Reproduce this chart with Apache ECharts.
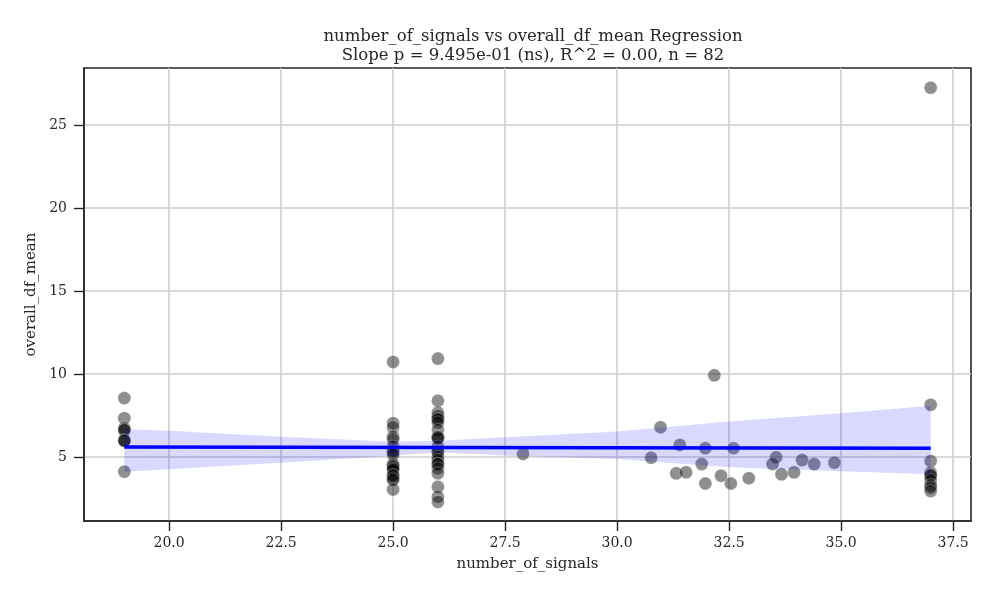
<!DOCTYPE html>
<html>
<head>
<meta charset="utf-8">
<script src="https://cdn.jsdelivr.net/npm/echarts@6/dist/echarts.min.js"></script>
<style>html,body{margin:0;padding:0;background:#fff}#c{width:1000px;height:600px}</style>
</head>
<body>
<div id="c"></div>
<script>
const numberOfSignals = [
  19,19,19,19,19,19,19,19,19,
  25,25,25,25,25,25,25,25,25,25,25,25,25,25,25,25,25,25,25,
  26,26,26,26,26,26,26,26,26,26,26,26,26,26,26,26,26,26,26,26,26,26,26,
  37,37,37,37,37,37,37,37,37,37,
  27.9,32.17,30.97,31.40,31.97,32.60,30.76,31.89,31.32,31.54,31.97,32.32,32.54,32.94,33.55,33.47,33.67,33.95,34.13,34.40,34.85
];
const overallDfMean = [
  8.56,7.35,6.75,6.62,6.65,6.04,5.98,6.0,4.13,
  10.74,7.05,6.8,6.24,6.08,5.64,5.38,5.3,5.14,4.59,4.5,4.43,4.3,4.23,3.93,3.9,3.73,3.63,3.06,
  10.94,8.4,7.69,7.49,7.3,7.29,7.09,6.65,6.24,6.2,6.14,5.64,5.34,5.3,5.03,4.83,4.59,4.6,4.33,4.03,3.22,2.62,2.31,
  27.25,8.16,4.77,4.07,3.93,3.9,3.63,3.32,3.18,2.96,
  5.2,9.93,6.81,5.74,5.54,5.54,4.97,4.59,4.03,4.09,3.42,3.89,3.42,3.74,5.0,4.59,3.97,4.09,4.83,4.59,4.67
];
const regX = [19, 37];
const regY = [5.62, 5.54];
const bandX = [19, 20, 22.5, 25, 26, 27.5, 30, 32.5, 35, 37];
const bandLower = [4.13, 4.27, 4.67, 5.09, 5.3, 5.1, 4.9, 4.4, 4.16, 3.97];
const bandUpper = [6.69, 6.59, 6.24, 5.94, 6.0, 6.2, 6.55, 7.15, 7.65, 8.1];
const xTicks = [20, 22.5, 25, 27.5, 30, 32.5, 35, 37.5];
const yTicks = [5, 10, 15, 20, 25];

const scatterData = numberOfSignals.map((x, i) => [x, overallDfMean[i]]);
const regData = regX.map((x, i) => [x, regY[i]]);
const bandData = bandX.map((x, i) => [x, bandLower[i], bandUpper[i]]);

const font = 'DejaVu Serif';
const dark = '#262626';
const chart = echarts.init(document.getElementById('c'));
chart.setOption({
  animation: false,
  backgroundColor: '#fff',
  title: {
    text: 'number_of_signals vs overall_df_mean Regression\nSlope p = 9.495e-01 (ns), R^2 = 0.00, n = 82',
    left: 528, top: 22, textAlign: 'center',
    textStyle: { fontFamily: font, fontSize: 16.5, fontWeight: 'normal', color: dark, lineHeight: 19 }
  },
  grid: { left: 84, right: 29, top: 68, bottom: 79, show: true, borderColor: dark, borderWidth: 1.6, backgroundColor: 'transparent' },
  xAxis: {
    type: 'value', min: 18.1, max: 37.9,
    name: 'number_of_signals', nameLocation: 'middle', nameGap: 36,
    nameTextStyle: { fontFamily: font, fontSize: 15, color: dark },
    axisLine: { show: true, lineStyle: { color: dark, width: 1.6 } },
    axisTick: { show: true, customValues: xTicks, length: 10, lineStyle: { color: dark, width: 1.4 } },
    axisLabel: { customValues: xTicks, fontFamily: font, fontSize: 14, color: dark, margin: 15, formatter: v => v.toFixed(1) },
    splitLine: { show: true, customValues: xTicks, lineStyle: { color: '#cccccc', width: 1.5 } }
  },
  yAxis: {
    type: 'value', min: 1.16, max: 28.44,
    name: 'overall_df_mean', nameLocation: 'middle', nameGap: 41,
    nameTextStyle: { fontFamily: font, fontSize: 15, color: dark },
    axisLine: { show: true, lineStyle: { color: dark, width: 1.6 } },
    axisTick: { show: true, customValues: yTicks, length: 10, lineStyle: { color: dark, width: 1.4 } },
    axisLabel: { customValues: yTicks, fontFamily: font, fontSize: 14, color: dark, margin: 17 },
    splitLine: { show: true, customValues: yTicks, lineStyle: { color: '#cccccc', width: 1.5 } }
  },
  series: [
    {
      type: 'scatter', data: scatterData, symbolSize: 13, z: 2,
      itemStyle: { color: 'rgba(0,0,0,0.55)', borderColor: 'rgba(255,255,255,0.5)', borderWidth: 0.6 }
    },
    {
      type: 'custom', z: 3, data: [0], silent: true,
      renderItem: function (params, api) {
        const pts = [];
        bandData.forEach(d => pts.push(api.coord([d[0], d[2]])));
        for (let i = bandData.length - 1; i >= 0; i--) pts.push(api.coord([bandData[i][0], bandData[i][1]]));
        return { type: 'polygon', shape: { points: pts }, style: { fill: 'rgba(0,0,255,0.15)', stroke: 'none' } };
      }
    },
    {
      type: 'line', data: regData, symbol: 'none', z: 4,
      lineStyle: { color: '#0000ff', width: 3.5 }
    }
  ]
});
</script>
</body>
</html>
